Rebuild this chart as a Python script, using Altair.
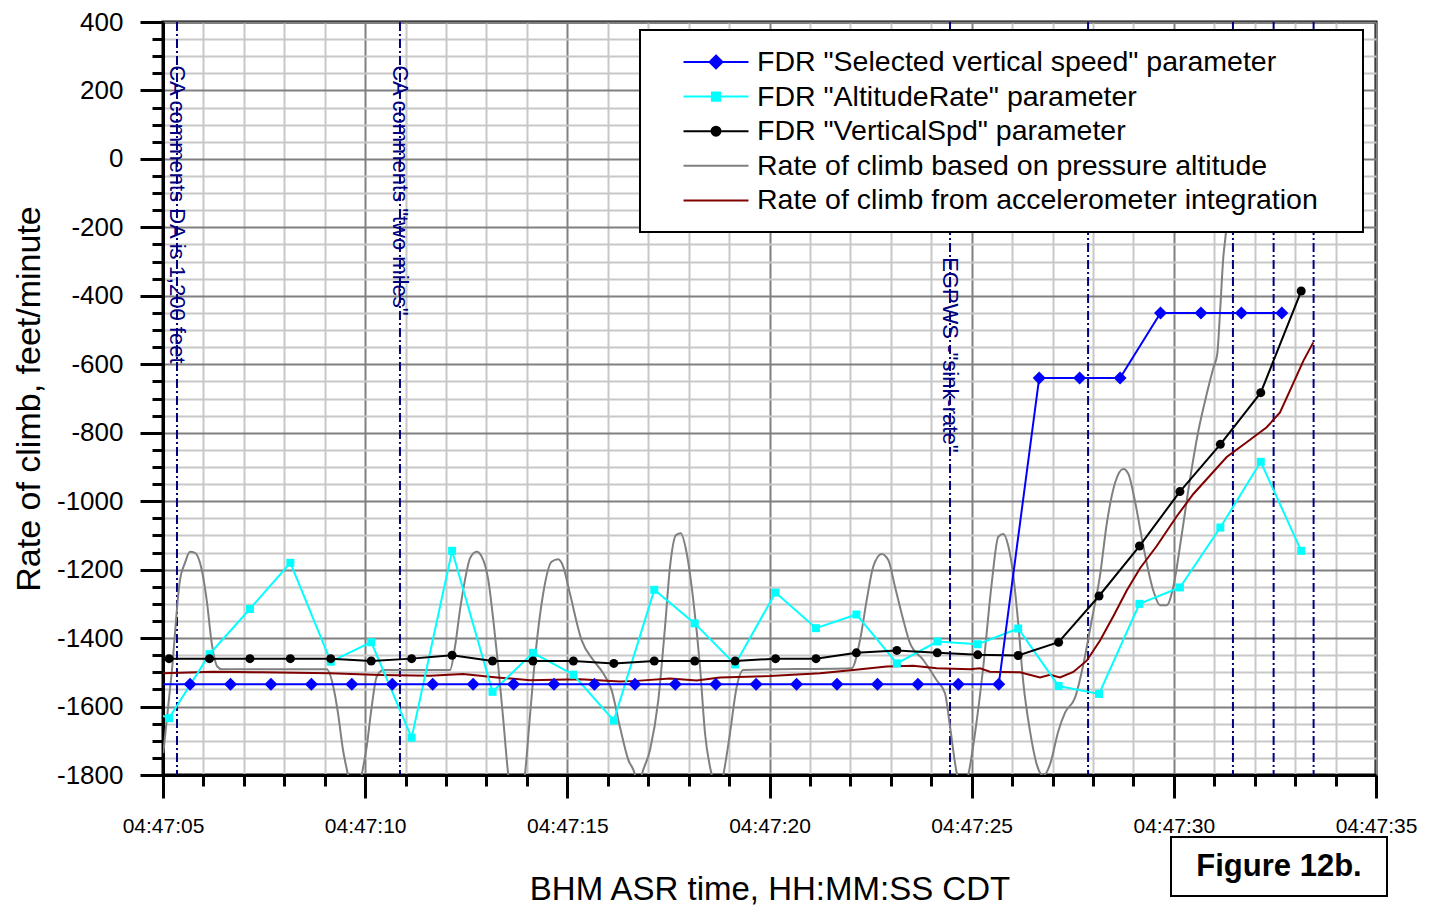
import altair as alt
import pandas as pd

FONT = "Liberation Sans"
NAVY = "#000080"

# ---- data (time = seconds after 04:47:00 CDT) ----
series_names = [
    'FDR "Selected vertical speed" parameter',
    'FDR "AltitudeRate" parameter',
    'FDR "VerticalSpd" parameter',
    'Rate of climb based on pressure altitude',
    'Rate of climb from accelerometer integration',
]
series_colors = ["#0000ff", "#00ffff", "#000000", "#808080", "#800000"]

sel_t = [4.67, 5.67, 6.67, 7.67, 8.67, 9.67, 10.67, 11.67, 12.67, 13.67, 14.67,
         15.67, 16.67, 17.67, 18.67, 19.67, 20.67, 21.67, 22.67, 23.67, 24.67,
         25.67, 26.67, 27.67, 28.67, 29.67, 30.67, 31.67, 32.67]
sel_v = [-1535, -1535, -1535, -1535, -1535, -1535, -1535, -1535, -1535, -1535,
         -1535, -1535, -1535, -1535, -1535, -1535, -1535, -1535, -1535, -1535,
         -1535, -1535, -640, -640, -640, -450, -450, -450, -450]

alt_t = [4.15, 5.15, 6.15, 7.15, 8.15, 9.15, 10.15, 11.15, 12.15, 13.15, 14.15,
         15.15, 16.15, 17.15, 18.15, 19.15, 20.15, 21.15, 22.15, 23.15, 24.15,
         25.15, 26.15, 27.15, 28.15, 29.15, 30.15, 31.15, 32.15, 33.15]
alt_v = [-1590, -1634, -1447, -1315, -1180, -1469, -1412, -1691, -1145, -1557,
         -1443, -1507, -1641, -1259, -1357, -1477, -1267, -1371, -1331, -1474,
         -1410, -1418, -1372, -1540, -1563, -1300, -1252, -1077, -885, -1145]

vs_t = [4.15, 5.15, 6.15, 7.15, 8.15, 9.15, 10.15, 11.15, 12.15, 13.15, 14.15,
        15.15, 16.15, 17.15, 18.15, 19.15, 20.15, 21.15, 22.15, 23.15, 24.15,
        25.15, 26.15, 27.15, 28.15, 29.15, 30.15, 31.15, 32.15, 33.15]
vs_v = [-1460, -1460, -1460, -1460, -1460, -1460, -1467, -1460, -1450, -1467,
        -1467, -1467, -1474, -1467, -1467, -1467, -1460, -1460, -1443, -1436,
        -1443, -1449, -1451, -1412, -1277, -1131, -972, -834, -683, -386]

press_t = [5.007, 5.215, 5.420, 5.544, 5.668, 5.791, 5.915, 6.081, 6.204, 6.343,
           6.452, 9.049, 9.212, 9.328, 9.452, 9.576, 9.75, 9.914, 10.038, 10.162,
           10.285, 10.449, 12.098, 12.222, 12.345, 12.469, 12.593, 12.758, 12.882,
           13.045, 13.169, 13.292, 13.416, 13.540, 13.746, 13.950, 14.074, 14.198,
           14.404, 14.611, 14.774, 14.898, 15.064, 15.353, 15.640, 15.887, 16.095,
           16.300, 16.508, 16.674, 16.75, 16.84, 17.045, 17.250, 17.416, 17.540,
           17.688, 17.804, 17.952, 18.115, 18.281, 18.405, 18.570, 18.714, 18.858,
           19.023, 19.189, 19.352, 22.033, 22.238, 22.404, 22.567, 22.775, 22.938,
           23.104, 23.309, 23.475, 23.804, 24.135, 24.340, 24.465, 24.630, 24.81,
           24.917, 25.083, 25.288, 25.496, 25.659, 25.783, 25.906, 26.030, 26.154,
           26.278, 26.443, 26.609, 26.772, 26.938, 27.143, 27.309, 27.556, 27.762,
           27.970, 28.175, 28.341, 28.545, 28.751, 28.874, 29.040, 29.245, 29.492,
           29.658, 29.824, 29.987, 30.195, 30.400, 30.606, 30.813, 30.977, 31.076,
           31.142, 31.224, 31.291, 31.353]
press_v = [-1736, -1502, -1230, -1180, -1148, -1151, -1180, -1289, -1414, -1483,
           -1491, -1491, -1542, -1619, -1727, -1800, -1900, -1800, -1717, -1600,
           -1513, -1493, -1493, -1425, -1318, -1230, -1167, -1148, -1162,
           -1230, -1347, -1483, -1639, -1800, -1900, -1800, -1630, -1464,
           -1269, -1177, -1170, -1191, -1270, -1406, -1464, -1503, -1552,
           -1659, -1756, -1800, -1850, -1800, -1727, -1581, -1367, -1191,
           -1099, -1094, -1152, -1289, -1483, -1678, -1800, -1870, -1800,
           -1678, -1542, -1493, -1488, -1406, -1289, -1191, -1154, -1172,
           -1250, -1347, -1415, -1464, -1523, -1561, -1659, -1794, -1850,
           -1800, -1678, -1483, -1240, -1104, -1096, -1131, -1217, -1360,
           -1531, -1672, -1769, -1802, -1769, -1672, -1618, -1574, -1477,
           -1347, -1217, -1066, -947, -906, -920, -1001, -1131, -1261,
           -1304, -1304, -1250, -1098, -936, -795, -687, -611, -568,
           -449, -287, -211, -100]

accel_t = [5.0, 6.237, 7.473, 9.130, 10.367, 11.603, 12.420, 13.261, 14.077, 15.313,
           16.303, 16.715, 17.539, 18.199, 18.776, 20.012, 21.249, 22.073, 22.898,
           23.556, 24.135, 24.959, 25.206, 25.453, 26.195, 26.690, 26.938, 27.185,
           27.514, 27.845, 28.175, 28.504, 28.835, 29.164, 29.577, 30.072, 30.482,
           30.895, 31.308, 31.802, 32.297, 32.626, 32.955, 33.203, 33.450]
accel_v = [-1503, -1498, -1500, -1503, -1508, -1510, -1505, -1515, -1523, -1520,
           -1527, -1525, -1518, -1524, -1515, -1511, -1503, -1493, -1483,
           -1481, -1488, -1491, -1488, -1498, -1500, -1515, -1507, -1515,
           -1499, -1466, -1407, -1336, -1261, -1196, -1131, -1044, -979,
           -925, -871, -828, -784, -741, -655, -590, -536]

event_t = [5.346, 10.861, 24.465, 27.879, 31.462, 32.468, 33.457]
note_t = [5.346, 10.861, 24.465]
note_v = [274, 274, -287]
note_text = ['CA comments DA is 1,200 feet', 'CA comments "two miles"', 'EGPWS -"sink-rate"']

figure_label = ["Figure 12b."]

# legend glyphs: a 65 px line with the series marker in the middle
# (symbol size 784 -> 14 px per path unit)
legend_paths = [
    "M-2.32,0H2.32M0,-0.46L0.46,0L0,0.46L-0.46,0Z",
    "M-2.32,0H2.32M-0.29,-0.29H0.29V0.29H-0.29Z",
    "M-2.32,0H2.32M0.32,0A0.32,0.32,0,1,1,-0.32,0A0.32,0.32,0,1,1,0.32,0Z",
    "M-2.32,0H2.32",
    "M-2.32,0H2.32",
]

# ---- tables ----
def table(ts, vs, name):
    return pd.DataFrame({"t": ts, "v": vs, "series": name})

df_sel = table(sel_t, sel_v, series_names[0])
df_alt = table(alt_t, alt_v, series_names[1])
df_vs = table(vs_t, vs_v, series_names[2])
df_press = table(press_t, press_v, series_names[3])
df_accel = table(accel_t, accel_v, series_names[4])
df_all = pd.concat([df_sel, df_alt, df_vs, df_press, df_accel], ignore_index=True)

# ---- scales / axes ----
x_axis = alt.Axis(
    values=list(range(5, 36)),
    labelExpr="datum.value % 5 === 0 ? '04:47:' + (datum.value < 10 ? '0' : '') + datum.value : ''",
    grid=True,
    gridColor={"condition": {"test": "datum.value % 5 === 0", "value": "#808080"}, "value": "#c8c8c8"},
    gridWidth=2,
    tickSize={"condition": {"test": "datum.value % 5 === 0", "value": 23}, "value": 11},
    tickWidth=3, tickColor="black",
    domainColor="black", domainWidth=3,
    labelFont=FONT, labelFontSize=21, labelColor="black", labelPadding=17,
    labelOverlap=False, labelFlush=False,
    title="BHM ASR time, HH:MM:SS CDT",
    titleFont=FONT, titleFontSize=33, titleFontWeight="normal", titleColor="black",
    titlePadding=37,
)
y_axis = alt.Axis(
    values=list(range(-1800, 401, 50)),
    labelExpr="datum.value % 200 === 0 ? '' + datum.value : ''",
    grid=True,
    gridColor={"condition": {"test": "datum.value % 200 === 0", "value": "#808080"}, "value": "#c8c8c8"},
    gridWidth=2,
    tickSize={"condition": {"test": "datum.value % 200 === 0", "value": 23}, "value": 11},
    tickWidth=3, tickColor="black",
    domainColor="black", domainWidth=3,
    labelFont=FONT, labelFontSize=26, labelColor="black", labelPadding=17,
    labelOverlap=False,
    title="Rate of climb, feet/minute",
    titleFont=FONT, titleFontSize=34, titleFontWeight="normal", titleColor="black",
    titlePadding=10,
)
xs = alt.Scale(domain=[5, 35], nice=False, zero=False)
ys = alt.Scale(domain=[-1800, 400], nice=False, zero=False)

def X():
    return alt.X("t:Q", scale=xs, axis=x_axis)

def Y():
    return alt.Y("v:Q", scale=ys, axis=y_axis)

# ---- layers ----
rules = alt.Chart(pd.DataFrame({"t": event_t})).mark_rule(
    color=NAVY, strokeWidth=2, strokeDash=[9, 3, 2, 3]
).encode(x=X())

notes = alt.Chart(pd.DataFrame({"t": note_t, "v": note_v, "label": note_text})).mark_text(
    angle=90, align="left", baseline="middle", font=FONT, fontSize=22, color=NAVY
).encode(x=X(), y=Y(), text="label:N")

def line(df, color, width=2):
    return alt.Chart(df).mark_line(color=color, strokeWidth=width, clip=True).encode(x=X(), y=Y())

gray = alt.Chart(df_press).mark_line(color=series_colors[3], strokeWidth=2, clip=True,
                                     interpolate="monotone").encode(x=X(), y=Y())
red = line(df_accel, series_colors[4])
cyan_l = line(df_alt, series_colors[1])
cyan_p = alt.Chart(df_alt).mark_point(shape="square", filled=True, size=64, opacity=1,
                                      color=series_colors[1], clip=True).encode(x=X(), y=Y())
black_l = line(df_vs, series_colors[2])
black_p = alt.Chart(df_vs).mark_point(shape="circle", filled=True, size=81, opacity=1,
                                      color=series_colors[2], clip=True).encode(x=X(), y=Y())
blue_l = line(df_sel, series_colors[0])
blue_p = alt.Chart(df_sel).mark_point(shape="diamond", filled=True, size=169, opacity=1,
                                      color=series_colors[0], clip=True).encode(x=X(), y=Y())

leg = alt.Legend(
    title=" ", titleOrient="right", titlePadding=28, titleFontSize=1,
    orient="none", legendX=477, legendY=8,
    fillColor="white", strokeColor="black", padding=17,
    symbolOffset=44, labelOffset=26, rowPadding=4.6,
    labelFont=FONT, labelFontSize=28.5, labelColor="black", labelLimit=2000,
    symbolSize=784, symbolStrokeWidth=2, symbolOpacity=1,
)
legend_layer = alt.Chart(df_all).mark_point(opacity=0, clip=True).encode(
    x=X(), y=Y(),
    fill=alt.Fill("series:N", scale=alt.Scale(domain=series_names, range=series_colors), legend=leg),
    stroke=alt.Stroke("series:N", scale=alt.Scale(domain=series_names, range=series_colors), legend=leg),
    shape=alt.Shape("series:N", scale=alt.Scale(domain=series_names, range=legend_paths), legend=leg),
)

fig_df = pd.DataFrame({"label": figure_label})
fig_box = alt.Chart(fig_df).mark_rect(fill="white", stroke="black", strokeWidth=2).encode(
    x=alt.value(1008), x2=alt.value(1224), y=alt.value(815), y2=alt.value(874)
)
fig_text = alt.Chart(fig_df).mark_text(
    font=FONT, fontSize=31, fontWeight="bold", color="black", align="center", baseline="middle"
).encode(x=alt.value(1116), y=alt.value(845), text="label:N")

chart = alt.layer(
    rules, notes, gray, red, cyan_l, cyan_p, black_l, black_p, blue_l, blue_p,
    legend_layer, fig_box, fig_text
).properties(
    width=1213, height=753,
    padding={"left": 163, "top": 22, "right": 61, "bottom": 134},
    autosize=alt.AutoSizeParams(type="none"),
    background="white",
).configure_view(stroke="black", strokeWidth=3).configure_legend(strokeWidth=2)

chart.save("out.html", embed_options={"renderer": "svg", "actions": False})
